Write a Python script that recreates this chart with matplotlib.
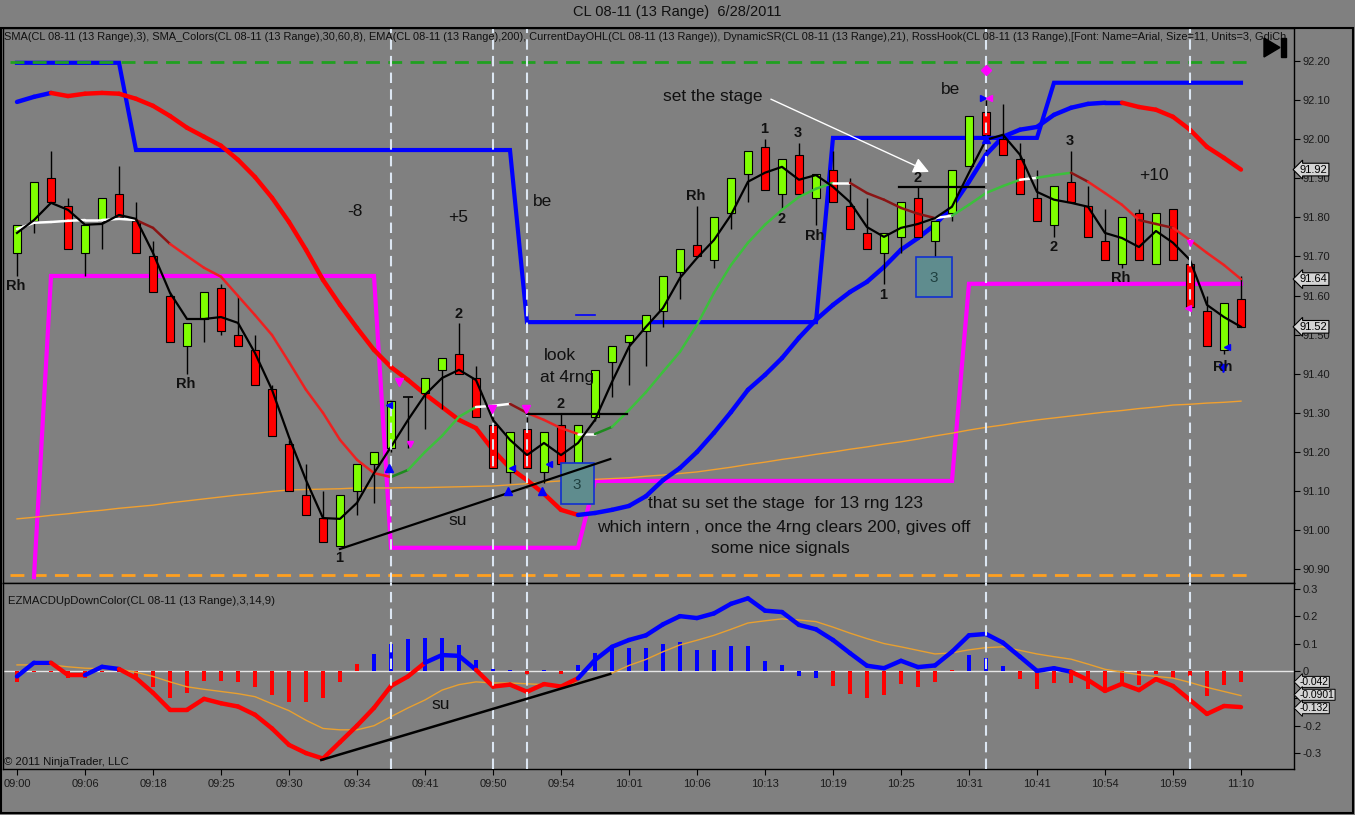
import matplotlib
matplotlib.use("Agg")
import matplotlib.pyplot as plt
import numpy as np
from matplotlib.collections import LineCollection
from matplotlib.patches import Rectangle, Polygon
import matplotlib.transforms as mtrans

plt.rcParams['font.family'] = ['Liberation Sans', 'DejaVu Sans']

# ---------------- data ----------------
time_labels = ["09:00", "09:06", "09:18", "09:25", "09:30", "09:34", "09:41", "09:50", "09:54",
               "10:01", "10:06", "10:13", "10:19", "10:25", "10:31", "10:41", "10:54", "10:59", "11:10"]

bar_open = [91.71, 91.79, 91.90, 91.83, 91.71, 91.79, 91.86, 91.79, 91.70, 91.60,
            91.47, 91.54, 91.62, 91.50, 91.46, 91.36, 91.22, 91.09, 91.03, 90.96,
            91.10, 91.17, 91.21, 91.34, 91.35, 91.41, 91.45, 91.39, 91.27, 91.15,
            91.26, 91.15, 91.27, 91.16, 91.29, 91.43, 91.48, 91.51, 91.56, 91.66,
            91.73, 91.69, 91.81, 91.91, 91.98, 91.86, 91.96, 91.85, 91.92, 91.83,
            91.76, 91.71, 91.75, 91.85, 91.74, 91.81, 91.93, 92.07, 92.00, 91.95,
            91.85, 91.78, 91.89, 91.83, 91.74, 91.68, 91.81, 91.68, 91.82, 91.68,
            91.56, 91.46, 91.59]
bar_close = [91.78, 91.89, 91.84, 91.72, 91.78, 91.85, 91.80, 91.71, 91.61, 91.48,
             91.53, 91.61, 91.51, 91.47, 91.37, 91.24, 91.10, 91.04, 90.97, 91.09,
             91.17, 91.20, 91.33, 91.34, 91.39, 91.44, 91.40, 91.29, 91.16, 91.25,
             91.16, 91.25, 91.17, 91.27, 91.41, 91.47, 91.50, 91.55, 91.65, 91.72,
             91.70, 91.80, 91.90, 91.97, 91.87, 91.95, 91.86, 91.91, 91.84, 91.77,
             91.72, 91.76, 91.84, 91.75, 91.79, 91.92, 92.06, 92.01, 91.96, 91.86,
             91.79, 91.88, 91.84, 91.75, 91.69, 91.80, 91.69, 91.81, 91.69, 91.57,
             91.47, 91.58, 91.52]
bar_high = [91.78, 91.89, 91.97, 91.85, 91.78, 91.85, 91.93, 91.84, 91.74, 91.61,
            91.53, 91.61, 91.63, 91.60, 91.50, 91.37, 91.23, 91.17, 91.10, 91.09,
            91.17, 91.20, 91.33, 91.34, 91.39, 91.44, 91.53, 91.42, 91.29, 91.25,
            91.29, 91.25, 91.30, 91.27, 91.41, 91.47, 91.50, 91.55, 91.65, 91.72,
            91.83, 91.80, 91.90, 91.97, 92.00, 91.95, 91.99, 91.91, 91.97, 91.90,
            91.85, 91.76, 91.84, 91.88, 91.79, 91.92, 92.06, 92.10, 92.09, 91.99,
            91.92, 91.88, 91.97, 91.88, 91.82, 91.80, 91.82, 91.81, 91.82, 91.68,
            91.60, 91.58, 91.65]
bar_low = [91.65, 91.76, 91.84, 91.72, 91.65, 91.72, 91.80, 91.71, 91.61, 91.48,
           91.40, 91.48, 91.50, 91.47, 91.37, 91.24, 91.10, 91.04, 90.97, 90.96,
           91.04, 91.07, 91.20, 91.21, 91.26, 91.31, 91.40, 91.29, 91.16, 91.12,
           91.16, 91.12, 91.17, 91.14, 91.28, 91.34, 91.37, 91.42, 91.52, 91.59,
           91.70, 91.67, 91.77, 91.84, 91.87, 91.82, 91.86, 91.78, 91.84, 91.77,
           91.72, 91.63, 91.71, 91.75, 91.66, 91.79, 91.93, 91.97, 91.96, 91.86,
           91.79, 91.75, 91.84, 91.75, 91.69, 91.67, 91.69, 91.68, 91.69, 91.55,
           91.47, 91.45, 91.52]

# SMA(3)
sma3 = [91.760, 91.793, 91.837, 91.819, 91.781, 91.783, 91.806, 91.796, 91.709, 91.607,
        91.540, 91.540, 91.545, 91.530, 91.453, 91.359, 91.238, 91.128, 91.031, 91.029,
        91.070, 91.146, 91.213, 91.282, 91.346, 91.389, 91.410, 91.384, 91.282, 91.231,
        91.192, 91.223, 91.192, 91.223, 91.282, 91.379, 91.469, 91.520, 91.568, 91.645,
        91.696, 91.742, 91.806, 91.891, 91.914, 91.929, 91.896, 91.908, 91.878, 91.839,
        91.775, 91.750, 91.773, 91.783, 91.798, 91.827, 91.914, 91.998, 92.011, 91.960,
        91.865, 91.845, 91.837, 91.827, 91.760, 91.747, 91.724, 91.765, 91.735, 91.691,
        91.576, 91.545, 91.520]

# SMA_Colors fast (thin) line and its colour state per bar
sma_fast = [91.770, 91.786, 91.788, 91.791, 91.793, 91.793, 91.796, 91.793, 91.773, 91.732,
            91.701, 91.671, 91.648, 91.599, 91.550, 91.499, 91.430, 91.359, 91.300, 91.231,
            91.180, 91.146, 91.136, 91.154, 91.200, 91.241, 91.290, 91.315, 91.318, 91.323,
            91.300, 91.282, 91.261, 91.246, 91.246, 91.264, 91.307, 91.353, 91.405, 91.456,
            91.525, 91.607, 91.678, 91.735, 91.781, 91.819, 91.852, 91.873, 91.888, 91.888,
            91.862, 91.845, 91.824, 91.809, 91.798, 91.804, 91.832, 91.862, 91.880, 91.896,
            91.901, 91.908, 91.914, 91.891, 91.862, 91.832, 91.793, 91.783, 91.773, 91.742,
            91.709, 91.678, 91.642]
sma_fast_state = ['w', 'w', 'w', 'w', 'w', 'w', 'w', 'w', 'dr', 'dr',
                  'r', 'r', 'r', 'r', 'r', 'r', 'r', 'r', 'r', 'r',
                  'r', 'r', 'r', 'dg', 'g', 'g', 'g', 'g', 'w', 'w',
                  'dr', 'r', 'r', 'r', 'w', 'dg', 'g', 'g', 'g', 'g',
                  'g', 'g', 'g', 'g', 'g', 'g', 'g', 'g', 'g', 'w',
                  'dr', 'dr', 'dr', 'dr', 'dr', 'w', 'g', 'g', 'g', 'g',
                  'w', 'g', 'g', 'dr', 'r', 'r', 'r', 'dr', 'dr', 'r',
                  'r', 'r', 'r']

# slow (thick) line, colour runs
sma_slow = [92.095, 92.108, 92.118, 92.110, 92.116, 92.118, 92.116, 92.103, 92.085, 92.059,
            92.029, 92.006, 91.983, 91.947, 91.903, 91.850, 91.788, 91.717, 91.640, 91.576,
            91.517, 91.461, 91.417, 91.384, 91.348, 91.315, 91.282, 91.261, 91.205, 91.159,
            91.128, 91.093, 91.052, 91.039, 91.044, 91.052, 91.062, 91.087, 91.128, 91.159,
            91.200, 91.249, 91.302, 91.359, 91.397, 91.440, 91.492, 91.538, 91.576, 91.609,
            91.635, 91.673, 91.717, 91.747, 91.781, 91.827, 91.891, 91.960, 92.006, 92.024,
            92.031, 92.062, 92.080, 92.090, 92.093, 92.093, 92.082, 92.075, 92.057, 92.024,
            91.980, 91.952, 91.922]
sma_slow_runs = [('b', 3), ('r', 31), ('b', 32), ('r', 7)]

# EMA(200)
ema200 = [91.029, 91.033, 91.038, 91.042, 91.047, 91.051, 91.056, 91.060, 91.064, 91.070,
          91.075, 91.080, 91.085, 91.090, 91.094, 91.099, 91.103, 91.104, 91.105, 91.106,
          91.108, 91.108, 91.108, 91.109, 91.109, 91.110, 91.111, 91.112, 91.113, 91.116,
          91.119, 91.123, 91.126, 91.128, 91.130, 91.132, 91.134, 91.138, 91.141, 91.145,
          91.149, 91.155, 91.161, 91.168, 91.174, 91.181, 91.187, 91.194, 91.200, 91.207,
          91.213, 91.220, 91.226, 91.233, 91.241, 91.248, 91.256, 91.263, 91.269, 91.276,
          91.282, 91.287, 91.292, 91.297, 91.302, 91.306, 91.311, 91.315, 91.320, 91.322,
          91.325, 91.327, 91.330]

# DynamicSR steps (level, number of bars)
resistance_runs = [(92.195, 7), (91.972, 23), (91.532, 18), (92.003, 13), (92.144, 12)]
support_runs = [(np.nan, 1), (90.88, 1), (91.65, 20), (90.955, 12), (91.126, 22), (91.63, 17)]

# Current day high / low
day_high = 92.197
day_low = 90.885

# MACD panel
macd = [-0.02, 0.03, 0.03, -0.015, -0.015, 0.015, 0.007, -0.026, -0.08, -0.142,
        -0.142, -0.102, -0.118, -0.13, -0.16, -0.21, -0.27, -0.30, -0.32, -0.26,
        -0.20, -0.135, -0.055, -0.02, 0.03, 0.058, 0.055, 0.004, -0.057, -0.05,
        -0.076, -0.048, -0.057, -0.027, 0.04, 0.088, 0.113, 0.13, 0.17, 0.20,
        0.193, 0.21, 0.245, 0.265, 0.22, 0.215, 0.168, 0.152, 0.113, 0.065,
        0.019, 0.01, 0.037, 0.014, 0.02, 0.07, 0.13, 0.135, 0.103, 0.052,
        0.0, 0.01, -0.003, -0.033, -0.073, -0.047, -0.07, -0.03, -0.055, -0.106,
        -0.157, -0.128, -0.132]
macd_signal = [0.022, 0.022, 0.022, 0.015, 0.01, 0.008, 0.007, -0.005, -0.02, -0.04,
               -0.058, -0.067, -0.075, -0.083, -0.094, -0.12, -0.145, -0.18, -0.21, -0.215,
               -0.215, -0.2, -0.167, -0.135, -0.106, -0.07, -0.05, -0.04, -0.044, -0.044,
               -0.047, -0.05, -0.05, -0.044, -0.028, -0.008, 0.02, 0.042, 0.07, 0.095,
               0.112, 0.13, 0.152, 0.175, 0.183, 0.19, 0.186, 0.18, 0.16, 0.138,
               0.118, 0.10, 0.088, 0.075, 0.062, 0.066, 0.077, 0.085, 0.088, 0.075,
               0.062, 0.052, 0.043, 0.025, 0.006, -0.004, -0.014, -0.02, -0.026, -0.042,
               -0.06, -0.075, -0.0901]
macd_hist = [-0.04, -0.004, -0.004, -0.025, -0.025, -0.004, -0.004, -0.03, -0.06, -0.1,
             -0.08, -0.035, -0.035, -0.04, -0.057, -0.088, -0.115, -0.115, -0.1, -0.04,
             0.025, 0.06, 0.1, 0.115, 0.12, 0.12, 0.094, 0.04, 0.008, 0.005,
             -0.01, 0.004, -0.01, 0.02, 0.065, 0.085, 0.085, 0.085, 0.10, 0.107,
             0.078, 0.078, 0.09, 0.09, 0.037, 0.023, -0.018, -0.024, -0.055, -0.085,
             -0.10, -0.088, -0.047, -0.057, -0.04, 0.003, 0.058, 0.046, 0.018, -0.03,
             -0.066, -0.043, -0.043, -0.066, -0.07, -0.045, -0.05, -0.013, -0.027, -0.02,
             -0.09, -0.05, -0.042]
macd_runs = [('b', 3), ('r', 2), ('b', 2), ('r', 18), ('b', 3), ('r', 6), ('b', 29), ('r', 10)]
hist_runs = [('r', 21), ('b', 9), ('r', 1), ('b', 1), ('r', 1), ('b', 15), ('r', 8), ('b', 3), ('r', 14)]

session_marks = [23, 29, 31, 58, 70]

# ---------------- style ----------------
BG = '#808080'
GREEN = '#80ff00'
RED = '#ff0000'
BLUE = '#0000ff'
MAG = '#ff00ff'
W, H = 1355, 815


def fx(px):
    return px / W


def fy(py):
    return 1 - py / H


def expand(runs):
    out = []
    for v, k in runs:
        out += [v] * k
    return out


fig = plt.figure(figsize=(W / 100, H / 100), dpi=100, facecolor=BG)
ax = fig.add_axes([fx(3), fy(583), fx(1294) - fx(3), fy(28) - fy(583)], facecolor=BG)
axm = fig.add_axes([fx(3), fy(769), fx(1294) - fx(3), fy(583) - fy(769)], facecolor=BG, sharex=ax)

n = np.arange(1, len(bar_open) + 1)
ax.set_xlim(0.176, 76.12)
ax.set_ylim(90.865, 92.284)
axm.set_ylim(-0.358, 0.321)


def colored_line(axis, xs, ys, states, cmap, lw, z):
    segs, cols = [], []
    for i in range(1, len(xs)):
        if np.isnan(ys[i - 1]) or np.isnan(ys[i]):
            continue
        segs.append([(xs[i - 1], ys[i - 1]), (xs[i], ys[i])])
        cols.append(cmap[states[i]])
    axis.add_collection(LineCollection(segs, colors=cols, linewidths=lw, zorder=z,
                                       capstyle='round', joinstyle='round'))


# day high/low
ax.plot([0.6, 73.5], [day_low, day_low], color='#ffa020', lw=2, ls=(0, (5, 3)), zorder=3)

# Dynamic SR
resist = np.array(expand(resistance_runs), dtype=float)
support = np.array(expand(support_runs), dtype=float)
ax.plot(n, resist, color=BLUE, lw=3, zorder=3, solid_joinstyle='miter')
ax.plot(n, support, color=MAG, lw=3, zorder=3, solid_joinstyle='miter')
ax.plot([0.6, 73.5], [day_high, day_high], color='#20a020', lw=2, ls=(0, (5, 3)), zorder=3.2)

# EMA 200
ax.plot(n, ema200, color='#f0a030', lw=1, zorder=3)

# slow thick line
colored_line(ax, n, np.array(sma_slow), expand(sma_slow_runs), {'b': BLUE, 'r': RED}, 3.2, 3.5)

# candles
for i in range(len(n)):
    o, c, h, l = bar_open[i], bar_close[i], bar_high[i], bar_low[i]
    ax.vlines(n[i], l, h, color='black', lw=1, zorder=4)
    if abs(c - o) < 0.005:
        ax.hlines(o, n[i] - 0.3, n[i] + 0.3, color='black', lw=1.2, zorder=4.2)
    else:
        col = GREEN if c > o else RED
        ax.add_patch(Rectangle((n[i] - 0.24, min(o, c)), 0.48, abs(c - o), fc=col, ec='black',
                               lw=0.8, zorder=4.2))

# fast thin line
colored_line(ax, n, np.array(sma_fast), sma_fast_state,
             {'w': '#ffffff', 'dr': '#8b1414', 'r': '#ee2020', 'g': '#3cc03c', 'dg': '#1e8a1e'}, 1.8, 4.5)

# SMA 3
ax.plot(n, sma3, color='black', lw=1.6, zorder=4.8)

# session / trade vertical lines
for b in session_marks:
    for a in (ax, axm):
        a.axvline(b, color='#dce6f2', lw=1.5, ls=(0, (5, 3)), zorder=5)

# drawings on price panel
ax.plot([20.0, 35.9], [90.952, 91.182], color='black', lw=1.6, zorder=6)
ax.plot([31.0, 36.9], [91.297, 91.297], color='black', lw=1.6, zorder=6)
ax.plot([52.9, 57.9], [91.878, 91.878], color='black', lw=1.6, zorder=6)
ax.plot([33.9, 35.0], [91.55, 91.55], color=BLUE, lw=1.2, zorder=6)
for (x0, y0, x1, y1) in [(33.0, 91.067, 34.95, 91.172), (53.9, 91.596, 56.0, 91.699)]:
    ax.add_patch(Rectangle((x0, y0), x1 - x0, y1 - y0, fc='#5f8c8e', ec='#1030d0', lw=1.2, zorder=5.5))
ax.text(33.95, 91.115, '3', ha='center', va='center', fontsize=11, color='#1f4040', zorder=6)
ax.text(54.95, 91.645, '3', ha='center', va='center', fontsize=11, color='#1f4040', zorder=6)

ax.annotate('', xy=(54.8, 91.913), xytext=(45.2, 92.105),
            arrowprops=dict(arrowstyle='-|>', color='white', lw=1, mutation_scale=24), zorder=6)

# markers
ax.plot([23.5, 28.95, 30.95], [91.38, 91.31, 91.31], 'v', color=MAG, ms=6, zorder=6)
ax.plot([24.1, 70.0], [91.22, 91.735], 'v', color=MAG, ms=5, zorder=6)
ax.plot([22.9, 29.9, 31.9, 58.0], [91.16, 91.10, 91.10, 92.00], '^', color=BLUE, ms=6, zorder=6)
ax.plot([22.9, 30.1, 32.3, 72.2], [91.32, 91.16, 91.17, 91.468], '<', color=BLUE, ms=4, zorder=6)
ax.plot([58.0], [92.177], 'D', color=MAG, ms=5, zorder=6)
ax.plot([57.8], [92.105], '>', color=BLUE, ms=4, zorder=6)
ax.plot([58.2], [92.105], '<', color=MAG, ms=4, zorder=6)
ax.plot([69.9], [91.568], '<', color=MAG, ms=4, zorder=6)
ax.plot([71.95], [91.415], 'v', color=BLUE, ms=6, zorder=6)

# pattern labels
for t, xb, yp in [('Rh', 1, 91.625), ('Rh', 11, 91.374), ('1', 20, 90.929), ('2', 27, 91.553),
                  ('2', 33, 91.323), ('Rh', 41, 91.855), ('1', 45, 92.026), ('3', 47, 92.016),
                  ('2', 46, 91.796), ('Rh', 48, 91.752), ('1', 52, 91.601), ('2', 54, 91.901),
                  ('2', 62, 91.724), ('3', 63, 91.995), ('Rh', 66, 91.645), ('Rh', 72, 91.417)]:
    ax.text(xb - 0.05, yp, t, ha='center', va='center', fontsize=10.5, fontweight='bold',
            color='#101010', zorder=7)

# free annotations
for t, xb, yp in [('-8', 20.9, 91.814), ('+5', 26.95, 91.80), ('be', 31.9, 91.84),
                  ('look', 32.95, 91.446), ('at 4rng', 33.35, 91.39), ('set the stage', 41.9, 92.108),
                  ('be', 55.9, 92.128), ('+10', 67.9, 91.908), ('su', 26.95, 91.024),
                  ('that su set the stage  for 13 rng 123', 46.2, 91.067),
                  ('which intern , once the 4rng clears 200, gives off', 46.1, 91.008),
                  ('some nice signals', 45.9, 90.952)]:
    ax.text(xb, yp, t, ha='center', va='center', fontsize=12.5, color='#101010', zorder=7)

# ---------- MACD panel ----------
axm.axhline(0, color='#e6e6e6', lw=1, zorder=1)
hist_cols = [BLUE if s == 'b' else RED for s in expand(hist_runs)]
axm.bar(n, macd_hist, width=0.2, color=hist_cols, zorder=2)
axm.plot(n, macd_signal, color='#e8a030', lw=1, zorder=3)
colored_line(axm, n, np.array(macd), expand(macd_runs), {'b': BLUE, 'r': RED}, 3.2, 4)
axm.plot([18.9, 35.9], [-0.325, -0.011], color='black', lw=1.8, zorder=5)
axm.text(25.95, -0.124, 'su', ha='center', va='center', fontsize=12.5, color='#101010', zorder=6)

# ---------- axes cosmetics ----------
for a in (ax, axm):
    for s in a.spines.values():
        s.set_color('black')
        s.set_linewidth(1)
    a.yaxis.tick_right()
    a.tick_params(axis='y', direction='out', length=4, labelsize=8, pad=2, colors='black',
                  labelcolor='#1a1a1a')

ax.tick_params(axis='x', bottom=False, labelbottom=False)
ax.set_yticks([90.9, 91.0, 91.1, 91.2, 91.3, 91.4, 91.5, 91.6, 91.7, 91.8, 91.9, 92.0, 92.1, 92.2])
ax.set_yticklabels(['%.2f' % v for v in ax.get_yticks()])
# the -0.1 label is hidden behind the value flags in the original
axm.set_yticks([0.3, 0.2, 0.1, 0, -0.1, -0.2, -0.3])
axm.set_yticklabels(['0.3', '0.2', '0.1', '0', '', '-0.2', '-0.3'])
tick_bars = n[::4]
axm.set_xticks(tick_bars)
axm.set_xticklabels(time_labels)
axm.tick_params(axis='x', direction='out', length=4, labelsize=8, pad=3, colors='black',
                labelcolor='#1a1a1a')

# value flags on the axis
blend = mtrans.blended_transform_factory(ax.transAxes, ax.transData)
for v in (sma_slow[-1], sma_fast[-1], bar_close[-1]):
    ax.text(1.0045, v, '%.2f' % v, transform=blend, ha='left', va='center', fontsize=8,
            bbox=dict(boxstyle='larrow,pad=0.12', fc='#d4d4d4', ec='black', lw=0.8), clip_on=False,
            zorder=9)
blendm = mtrans.blended_transform_factory(axm.transAxes, axm.transData)
for v, s in ((macd_hist[-1] + 0.002, '%.3f' % macd_hist[-1]),
             (macd_signal[-1] + 0.003, '%.4f' % macd_signal[-1]),
             (macd[-1] - 0.004, '%.3f' % macd[-1])):
    axm.text(1.0045, v, s, transform=blendm, ha='left', va='center', fontsize=7.4,
             bbox=dict(boxstyle='larrow,pad=0.05', fc='#d4d4d4', ec='black', lw=0.7), clip_on=False,
             zorder=9)

# texts
fig.text(0.5, fy(12), 'CL 08-11 (13 Range)  6/28/2011', ha='center', va='center', fontsize=10.5,
         color='#101010')
ax.text(0.0008, 0.984, 'SMA(CL 08-11 (13 Range),3), SMA_Colors(CL 08-11 (13 Range),30,60,8), '
        'EMA(CL 08-11 (13 Range),200), CurrentDayOHL(CL 08-11 (13 Range)), DynamicSR(CL 08-11 (13 Range),21), '
        'RossHook(CL 08-11 (13 Range),[Font: Name=Arial, Size=11, Units=3, GdiCh',
        transform=ax.transAxes, ha='left', va='center', fontsize=7.9, color='#101010', clip_on=True,
        zorder=8)
axm.text(0.004, 0.903, 'EZMACDUpDownColor(CL 08-11 (13 Range),3,14,9)', transform=axm.transAxes,
         ha='left', va='center', fontsize=8.2, color='#101010')
axm.text(0.0005, 0.04, '\u00a9 2011 NinjaTrader, LLC', transform=axm.transAxes, ha='left',
         va='center', fontsize=8.2, color='#101010')

# play-to-end icon
fig.patches.append(Polygon([(fx(1264), fy(38)), (fx(1264), fy(57)), (fx(1280), fy(47.5))],
                           closed=True, fc='black', ec='black', transform=fig.transFigure))
fig.patches.append(Rectangle((fx(1281), fy(57)), fx(5), 19 / H, fc='black', ec='black',
                             transform=fig.transFigure))
# outer frame
fig.patches.append(Rectangle((fx(1), fy(813)), fx(1352), 785 / H, fill=False, ec='black', lw=1.5,
                             transform=fig.transFigure))

fig.savefig('out.png', dpi=100, facecolor=BG)
